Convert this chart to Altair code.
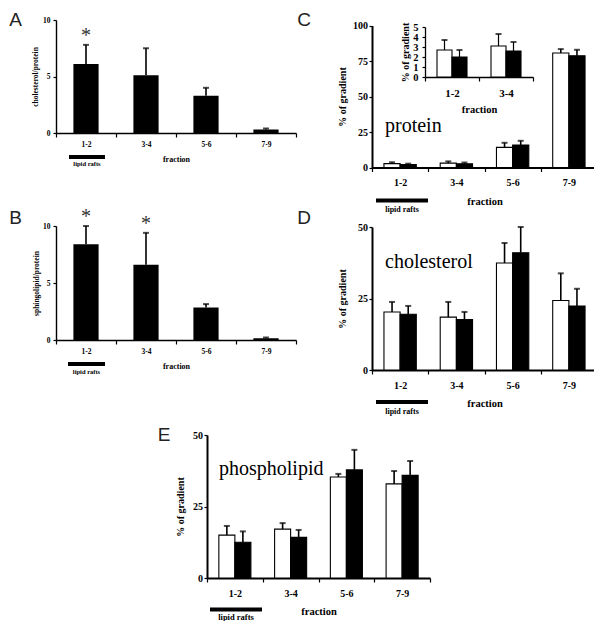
import altair as alt
import pandas as pd

# ---------------- data ----------------
fractions = ["1-2", "3-4", "5-6", "7-9"]
inset_fractions = ["1-2", "3-4"]
groups = ["control", "treated"]

# A: cholesterol/protein
A_mean = [6.1, 5.1, 3.3, 0.3]
A_err = [7.8, 7.5, 4.0, 0.4]
A_star = ["1-2"]

# B: sphingolipid/protein
B_mean = [8.4, 6.6, 2.85, 0.15]
B_err = [10.0, 9.4, 3.15, 0.22]
B_star = ["1-2", "3-4"]

# C: protein (% of gradient)
C_ctrl = [2.7, 3.1, 14.2, 80.6]
C_ctrl_err = [3.7, 4.3, 17.4, 83.4]
C_trt = [2.0, 2.6, 15.8, 78.7]
C_trt_err = [2.7, 3.5, 18.8, 82.9]

# C inset (fractions 1-2, 3-4)
I_ctrl = [2.7, 3.1]
I_ctrl_err = [3.7, 4.3]
I_trt = [2.0, 2.6]
I_trt_err = [2.7, 3.5]

# D: cholesterol (% of gradient)
D_ctrl = [20.3, 18.5, 37.4, 24.3]
D_ctrl_err = [23.8, 23.8, 44.4, 33.8]
D_trt = [19.5, 17.6, 41.0, 22.4]
D_trt_err = [22.4, 20.3, 50.0, 28.4]

# E: phospholipid (% of gradient)
E_ctrl = [15.0, 17.1, 35.3, 32.9]
E_ctrl_err = [18.2, 19.2, 36.4, 37.4]
E_trt = [12.5, 14.2, 37.8, 35.9]
E_trt_err = [16.3, 16.8, 44.8, 40.9]

panel_letters = ["A", "B", "C", "D", "E"]
inner_labels = ["protein", "cholesterol", "phospholipid"]

# ---------------- layout helpers ----------------
PAD = 8
OX = 8 + PAD   # image x of the view origin
OY = 8 + PAD
W, H = 602 - OX - 8, 629 - OY - 8
SERIF = "Liberation Serif"
SANS = "Liberation Sans"


def X(v):
    return v - OX


def Y(v):
    return v - OY


def x_axis(y_img, fs, tfs, title_dy, lab_pad, dw=1.6):
    return alt.Axis(orient="bottom", offset=Y(y_img) - H, title="fraction",
                    labelFont=SERIF, labelFontSize=fs, labelFontWeight="bold",
                    labelColor="black", labelAngle=0, labelPadding=lab_pad, labelOverlap=False,
                    tickBand="extent", tickSize=4, tickColor="black", tickWidth=1.2,
                    domainColor="black", domainWidth=dw, grid=False,
                    titleFont=SERIF, titleFontSize=tfs, titleFontWeight="bold",
                    titleColor="black", titleY=title_dy, titleBaseline="middle")


def y_axis(x_img, values, fs, title, tfs, title_dx, lab_pad, dw=1.6):
    return alt.Axis(orient="left", offset=-X(x_img), values=values, title=title,
                    format="d", labelFont=SERIF, labelFontSize=fs, labelFontWeight="bold",
                    labelColor="black", labelPadding=lab_pad, labelOverlap=False,
                    tickSize=3, tickColor="black", tickWidth=1.2,
                    domainColor="black", domainWidth=dw, grid=False,
                    titleFont=SERIF, titleFontSize=tfs, titleFontWeight="bold",
                    titleColor="black", titleX=title_dx, titleBaseline="middle")


def single_panel(mean, err, stars, xr, yr, dom, xax, yax):
    df = pd.DataFrame({"frac": fractions, "mean": mean, "err": err,
                       "star": ["*" if f in stars else "" for f in fractions]})
    xs = alt.Scale(domain=fractions, range=[X(xr[0]), X(xr[1])], paddingInner=0, paddingOuter=0)
    ys = alt.Scale(domain=dom, range=[Y(yr[0]), Y(yr[1])], nice=False)
    base = alt.Chart(df)
    bars = base.mark_bar(color="black", width=alt.RelativeBandSize(0.42)).encode(
        x=alt.X("frac:N", scale=xs, axis=xax, sort=fractions),
        y=alt.Y("mean:Q", scale=ys, axis=yax))
    rules = base.mark_rule(color="black", strokeWidth=1.6).encode(
        x=alt.X("frac:N", scale=xs, axis=None, sort=fractions),
        y=alt.Y("mean:Q", scale=ys, axis=None), y2="err:Q")
    caps = base.mark_tick(color="black", size=6, thickness=2).encode(
        x=alt.X("frac:N", scale=xs, axis=None, sort=fractions),
        y=alt.Y("err:Q", scale=ys, axis=None))
    st = base.mark_text(font=SERIF, fontSize=20, color="#333", dy=-9, baseline="middle").encode(
        x=alt.X("frac:N", scale=xs, axis=None, sort=fractions),
        y=alt.Y("err:Q", scale=ys, axis=None), text="star:N")
    return [bars, rules, caps, st]


def grouped_panel(fr, ctrl, ctrl_err, trt, trt_err, xr, yr, dom, po, xax, yax, sw=1.6):
    n = len(fr)
    df = pd.DataFrame({"frac": fr * 2, "grp": ["control"] * n + ["treated"] * n,
                       "mean": ctrl + trt, "err": ctrl_err + trt_err})
    xs = alt.Scale(domain=fr, range=[X(xr[0]), X(xr[1])], paddingInner=0, paddingOuter=0)
    ys = alt.Scale(domain=dom, range=[Y(yr[0]), Y(yr[1])], nice=False)
    xo = alt.Scale(domain=groups, paddingInner=0, paddingOuter=po)
    base = alt.Chart(df)
    bars = base.mark_bar(stroke="black", strokeWidth=1.1).encode(
        x=alt.X("frac:N", scale=xs, axis=xax, sort=fr),
        xOffset=alt.XOffset("grp:N", scale=xo, sort=groups),
        y=alt.Y("mean:Q", scale=ys, axis=yax),
        color=alt.Color("grp:N", scale=alt.Scale(domain=groups, range=["white", "black"]), legend=None))
    rules = base.mark_rule(color="black", strokeWidth=sw).encode(
        x=alt.X("frac:N", scale=xs, axis=None, sort=fr),
        xOffset=alt.XOffset("grp:N", scale=xo, sort=groups),
        y=alt.Y("mean:Q", scale=ys, axis=None), y2="err:Q")
    caps = base.mark_tick(color="black", size=6, thickness=2).encode(
        x=alt.X("frac:N", scale=xs, axis=None, sort=fr),
        xOffset=alt.XOffset("grp:N", scale=xo, sort=groups),
        y=alt.Y("err:Q", scale=ys, axis=None))
    return [bars, rules, caps]


# ---------------- panels ----------------
layers = []
layers += single_panel(A_mean, A_err, A_star, (56, 296), (133, 20), [0, 10],
                       x_axis(133, 7.5, 8, 26, 3, dw=1.4),
                       y_axis(56, [0, 5, 10], 7.5, "cholesterol/protein", 7.5, -21, 3, dw=1.4))
layers += single_panel(B_mean, B_err, B_star, (56, 296), (340, 226), [0, 10],
                       x_axis(340, 7.5, 8, 26, 3, dw=1.4),
                       y_axis(56, [0, 5, 10], 7.5, "sphingolipid/protein", 7.5, -20, 3, dw=1.4))
layers += grouped_panel(fractions, C_ctrl, C_ctrl_err, C_trt, C_trt_err, (372, 597), (167.5, 25.5),
                        [0, 100], 0.74,
                        x_axis(167.5, 10, 10.5, 34, 6, dw=2),
                        y_axis(372, [0, 25, 50, 75, 100], 10, "% of gradient", 10, -30, 1.5, dw=2))
layers += grouped_panel(inset_fractions, I_ctrl, I_ctrl_err, I_trt, I_trt_err, (425, 533), (77, 27),
                        [0, 5], 0.8,
                        x_axis(77, 11, 10.5, 32, 6, dw=1.3),
                        y_axis(425, [0, 1, 2, 3, 4, 5], 10.5, "% of gradient", 10, -20, 4, dw=1.3), sw=1.2)
layers += grouped_panel(fractions, D_ctrl, D_ctrl_err, D_trt, D_trt_err, (372, 597), (370, 227),
                        [0, 50], 0.74,
                        x_axis(370, 10, 10.5, 33, 6, dw=2),
                        y_axis(372, [0, 25, 50], 10, "% of gradient", 10, -30, 1.5, dw=2))
layers += grouped_panel(fractions, E_ctrl, E_ctrl_err, E_trt, E_trt_err, (207, 430), (578, 435),
                        [0, 50], 0.74,
                        x_axis(578, 10, 10.5, 33, 6, dw=2),
                        y_axis(207, [0, 25, 50], 10, "% of gradient", 10, -27, 1.5, dw=2))

# ---------------- annotations ----------------
one = pd.DataFrame({"k": [0]})

# panel letters: (centre x, baseline y)
letter_pos = [(15.5, 26), (15.5, 224), (304, 26), (304, 224), (164, 441)]
for t, (lx, ly) in zip(panel_letters, letter_pos):
    layers.append(alt.Chart(one).mark_text(text=t, font=SANS, fontSize=19, color="#222",
                                           align="center", baseline="alphabetic").encode(
        x=alt.value(X(lx)), y=alt.value(Y(ly))))

inner_pos = [(385, 132), (385, 268), (219, 475)]
for t, (lx, ly) in zip(inner_labels, inner_pos):
    layers.append(alt.Chart(one).mark_text(text=t, font=SERIF, fontSize=20, color="black",
                                           align="left", baseline="alphabetic").encode(
        x=alt.value(X(lx)), y=alt.value(Y(ly))))

# lipid rafts markers: (x0, x1, bar y, label y, label size)
rafts = [(69, 105, 157, 163.5, 6.5), (68, 105, 364, 371.5, 6.5), (376, 428, 200.5, 209.5, 8),
         (376, 428, 402, 411.5, 8), (210, 262, 609.5, 617, 8.5)]
for x0, x1, by, ly, fs in rafts:
    layers.append(alt.Chart(one).mark_rule(color="black", strokeWidth=4).encode(
        x=alt.value(X(x0)), x2=alt.value(X(x1)), y=alt.value(Y(by))))
    layers.append(alt.Chart(one).mark_text(text="lipid rafts", font=SERIF, fontSize=fs,
                                           fontWeight="bold", color="black",
                                           align="center", baseline="middle").encode(
        x=alt.value(X((x0 + x1) / 2)), y=alt.value(Y(ly))))

chart = alt.layer(*layers).resolve_scale(
    x="independent", y="independent", xOffset="independent"
).resolve_axis(x="independent", y="independent").properties(
    width=W, height=H, autosize=alt.AutoSizeParams(type="none"),
    padding={"left": PAD, "top": PAD, "right": 0, "bottom": 0},
    background="white"
).configure_view(stroke=None)

chart.save("out.html", embed_options={"renderer": "svg", "actions": False})
